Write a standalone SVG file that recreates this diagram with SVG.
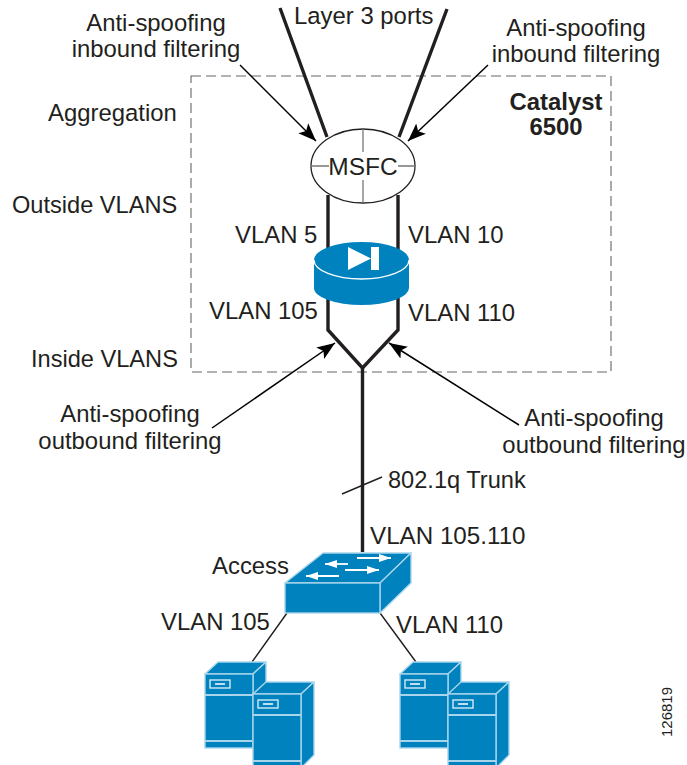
<svg xmlns="http://www.w3.org/2000/svg" xmlns:xlink="http://www.w3.org/1999/xlink" width="687" height="765" viewBox="0 0 687 765">
<style>
text{font-family:"Liberation Sans",Arial,sans-serif;font-size:23.9px;fill:#231f20}
.thick{fill:none;stroke:#231f20;stroke-width:3.4}
.thin{fill:none;stroke:#231f20;stroke-width:1.4}
.arr{fill:none;stroke:#000;stroke-width:1.5;marker-end:url(#ah)}
.blue{fill:#0082be;stroke:#a8d5ec;stroke-width:1.4;stroke-linejoin:round}
.wl{fill:none;stroke:#fff;stroke-width:1.5}
.band{fill:none;stroke:#a8d5ec;stroke-width:2}
.s236{font-size:23.6px}
</style>
<defs>
<marker id="ah" markerUnits="userSpaceOnUse" markerWidth="20" markerHeight="16" refX="18" refY="7.500" orient="auto"><path d="M0,0.500 L18,7.500 L0,14.500 L4,7.500 Z" fill="#000"/></marker>
<marker id="wa" markerUnits="userSpaceOnUse" markerWidth="12" markerHeight="8" refX="12" refY="4" orient="auto"><path d="M0,0 L12,4 L0,8 Z" fill="#fff"/></marker>
<g id="srv">
<path class="blue" d="M0,12 L13,0 L61,0 L48,12 Z"/>
<path class="blue" d="M48,12 L61,0 L61,73 L48,86 Z"/>
<rect x="0" y="12" width="48" height="74" fill="#0082be" stroke="#a8d5ec" stroke-width="1.4"/>
<rect x="5" y="18" width="20" height="8" fill="none" stroke="#d4ebf6" stroke-width="1.4"/>
<path d="M10,22 H20" class="wl"/>
<path class="band" d="M0,33 H48 M0,79 H48"/>
</g>
</defs>
<rect id="zone" x="191" y="76" width="420" height="296" fill="none" stroke="#666" stroke-width="1.100" stroke-dasharray="10 5"/>
<g id="connectors">
<path class="thick" d="M280,8 L327,137 M447,9 L399,137"/>
<path class="thick" d="M328,195 V330 L362.500,368 L398,330 V195"/>
<path class="thick" d="M362.500,368 V552"/>
<path class="thin" d="M342,494 L382,477"/>
<path class="thin" d="M287,613 L252,662 M380,613 L416,662"/>
<path class="arr" d="M240,65 L316,141"/>
<path class="arr" d="M488,65 L408,141"/>
<path class="arr" d="M212,428 L335,343"/>
<path class="arr" d="M519,425 L389,343"/>
</g>
<g id="msfc">
<ellipse cx="363" cy="166" rx="52" ry="37" fill="#fff" stroke="#231f20" stroke-width="1.300"/>
<path d="M363,129 V203 M311,166 H415" fill="none" stroke="#777" stroke-width="1.300"/>
<rect x="329" y="152" width="69" height="28" fill="#fff"/>
<text x="363" y="175" text-anchor="middle" style="font-size:24.500px">MSFC</text>
</g>
<g id="firewall">
<path d="M314,260 V288 A47.500,17 0 0 0 409,288 V260 Z" fill="#0082be"/>
<ellipse cx="361.500" cy="260" rx="47.500" ry="18" fill="#0082be" stroke="none"/>
<path d="M314,260 A47.500,19 0 0 0 409,260" fill="none" stroke="#fff" stroke-width="1.300"/>
<path d="M348,247 L371,258.500 L348,270 Z" fill="#fff"/>
<rect x="371" y="247" width="8" height="23" fill="#fff"/>
</g>
<g id="access-switch">
<path class="blue" d="M285,583 L323,553 L411,553 L380,583 Z"/>
<path class="blue" d="M380,583 L411,553 L411,583 L380,613 Z"/>
<rect x="285" y="583" width="95" height="30" fill="#0082be" stroke="#a8d5ec" stroke-width="1.400"/>
<g fill="none" stroke="#fff" stroke-width="1.800">
<path d="M357,558 H391" marker-end="url(#wa)"/>
<path d="M348,564 H325" marker-end="url(#wa)"/>
<path d="M345,570 H379" marker-end="url(#wa)"/>
<path d="M339,576 H306" marker-end="url(#wa)"/>
</g>
</g>
<g id="servers-left"><use xlink:href="#srv" href="#srv" x="205" y="662"/><use xlink:href="#srv" href="#srv" x="253" y="682"/></g>
<g id="servers-right"><use xlink:href="#srv" href="#srv" x="400" y="662"/><use xlink:href="#srv" href="#srv" x="448" y="682"/></g>
<g id="labels">
<text x="156" y="31" text-anchor="middle">Anti-spoofing</text>
<text x="156" y="57" text-anchor="middle">inbound filtering</text>
<text x="576" y="36" text-anchor="middle">Anti-spoofing</text>
<text x="576" y="62" text-anchor="middle">inbound filtering</text>
<text x="294" y="24">Layer 3 ports</text>
<text x="48" y="121">Aggregation</text>
<text x="12" y="213" class="s236">Outside VLANS</text>
<text x="31" y="367" class="s236">Inside VLANS</text>
<text x="556" y="110" text-anchor="middle" font-weight="bold">Catalyst</text>
<text x="556" y="135" text-anchor="middle" font-weight="bold">6500</text>
<text x="235" y="243">VLAN 5</text>
<text x="408" y="243">VLAN 10</text>
<text x="209" y="319">VLAN 105</text>
<text x="408" y="321">VLAN 110</text>
<text x="130" y="422" text-anchor="middle">Anti-spoofing</text>
<text x="130" y="449" text-anchor="middle">outbound filtering</text>
<text x="594" y="426" text-anchor="middle">Anti-spoofing</text>
<text x="594" y="453" text-anchor="middle">outbound filtering</text>
<text x="388" y="488" class="s236">802.1q Trunk</text>
<text x="370" y="544" style="font-size:24.200px">VLAN 105.110</text>
<text x="212" y="574">Access</text>
<text x="161" y="630">VLAN 105</text>
<text x="396" y="633">VLAN 110</text>
<text transform="translate(672,737) rotate(-90)" style="font-size:15px">126819</text>
</g>
</svg>
